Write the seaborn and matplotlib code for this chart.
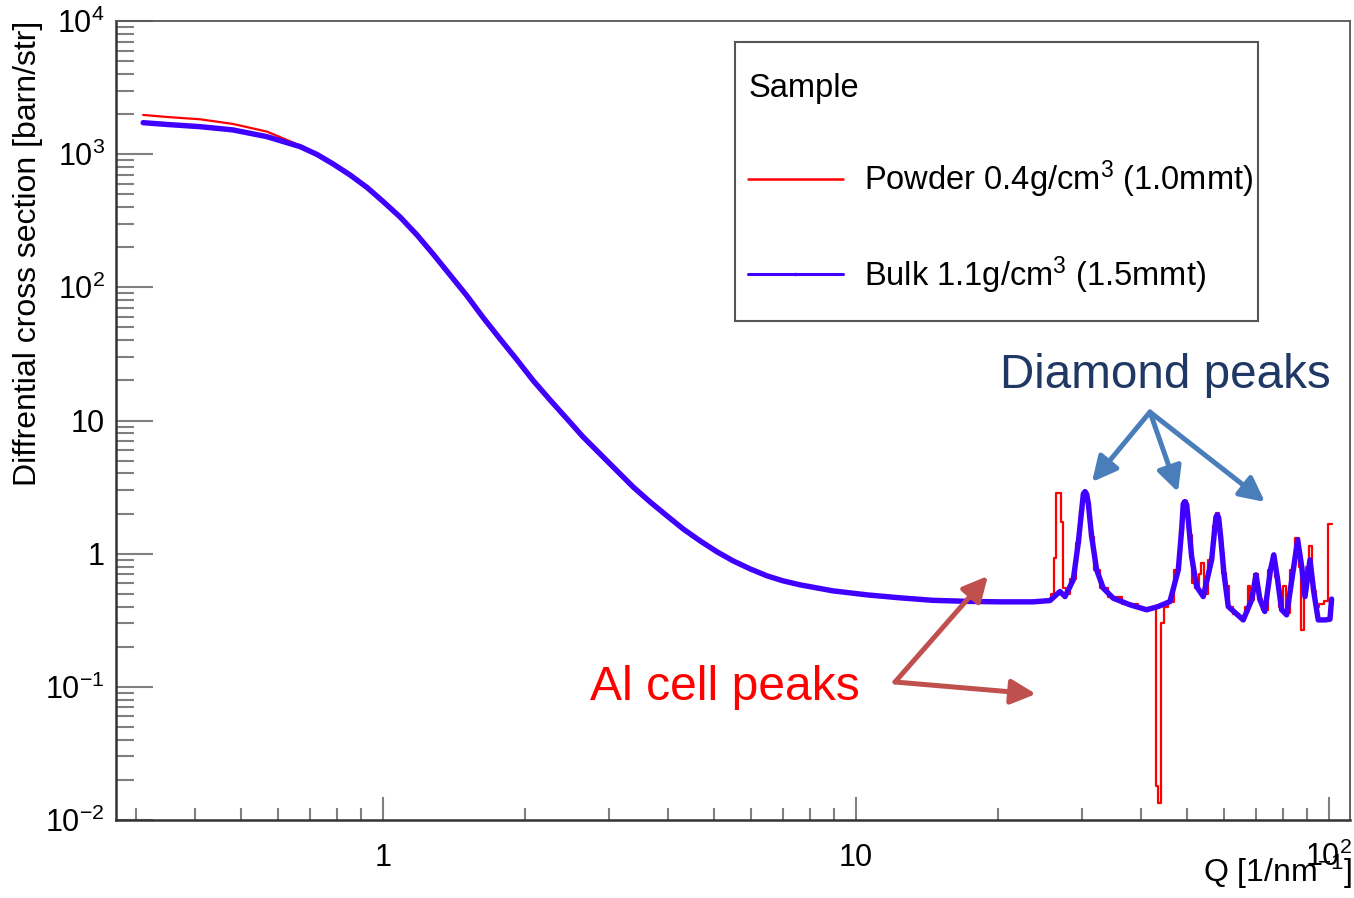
import numpy as np
import matplotlib
matplotlib.use("Agg")
import matplotlib.pyplot as plt
import seaborn as sns
from matplotlib.ticker import FixedLocator, FixedFormatter, LogLocator, NullFormatter
from matplotlib.lines import Line2D
from matplotlib.patches import Rectangle

# ---------------- data ----------------
q_smooth = [0.3110, 0.3494, 0.4103, 0.4819, 0.5685, 0.6677, 0.7252, 0.7842, 0.8517, 0.9250,
            1.000, 1.0862, 1.1797, 1.2755, 1.3856, 1.5052, 1.6272, 1.7676, 1.9201, 2.0757,
            2.2548, 2.4494, 2.6479, 2.8764, 3.1246, 3.3779, 3.6693, 3.9859, 4.3090, 4.6807,
            5.0845, 5.4966, 5.9708, 6.4860, 7.0115, 7.6164, 8.9396, 10.550, 12.390, 14.545,
            17.169, 20.157, 23.667, 25.715]
bulk_smooth = [1724, 1671, 1609, 1520, 1353, 1139, 994.8, 844.2, 698.0, 562.3,
               441.5, 337.7, 247.4, 178.1, 123.9, 86.2, 59.4, 41.0, 28.5, 20.0,
               14.27, 10.28, 7.533, 5.614, 4.184, 3.173, 2.448, 1.922, 1.535, 1.248,
               1.032, 0.883, 0.769, 0.6813, 0.6249, 0.5832, 0.5256, 0.4905, 0.4659, 0.4462,
               0.4385, 0.4347, 0.4347, 0.4446]
powder_smooth = [1970, 1902, 1828, 1686, 1476, 1162, 995, 840, 690, 553,
                 430, 329, 241, 173.6, 120.8, 84.0, 57.9, 40.0, 27.8, 19.5,
                 13.9, 10.02, 7.34, 5.47, 4.08, 3.09, 2.39, 1.87, 1.52, 1.24,
                 1.03, 0.883, 0.769, 0.6813, 0.631, 0.589, 0.531, 0.4905, 0.4659, 0.4462,
                 0.4385, 0.4347, 0.4347, 0.4446]

q_bulk_peaks = [26.99, 27.67, 28.80, 29.51, 30.01, 30.25, 30.50, 30.75, 30.98, 31.50,
                32.27, 33.33, 34.99, 37.96, 41.17, 43.56, 46.11, 48.02, 48.82, 49.20,
                49.61, 50.03, 50.41, 51.25, 52.52, 54.23, 56.49, 57.41, 57.70, 58.05,
                58.46, 59.02, 59.98, 61.25, 65.89, 68.65, 70.11, 71.48, 73.18, 75.24,
                76.46, 77.71, 79.43, 81.39, 84.06, 85.88, 87.58, 89.00, 91.18, 92.97,
                94.93, 98.07, 100.5, 101.3]
bulk_peaks = [0.520, 0.476, 0.636, 1.205, 2.132, 2.81, 2.925, 2.79, 2.407, 1.344,
              0.756, 0.551, 0.463, 0.413, 0.379, 0.401, 0.437, 0.756, 1.509, 2.365,
              2.461, 2.33, 1.794, 0.951, 0.566, 0.476, 0.899, 1.598, 1.89, 1.956,
              1.86, 1.344, 0.714, 0.401, 0.318, 0.450, 0.693, 0.450, 0.368, 0.756,
              0.980, 0.673, 0.379, 0.347, 0.756, 1.269, 0.800, 0.476, 0.899, 0.505,
              0.318, 0.318, 0.322, 0.456]

q_powder_peaks = [25.71, 26.09, 26.35, 26.57, 26.99, 27.30, 27.60, 28.00, 28.80, 29.51,
                  30.01, 30.50, 30.98, 31.50, 32.27, 33.33, 34.99, 37.96, 41.17, 42.70,
                  43.30, 43.90, 44.50, 45.20, 46.11, 48.02, 48.82, 49.61, 50.41, 51.00,
                  51.80, 52.60, 53.40, 54.00, 54.60, 56.49, 57.41, 58.05, 59.02, 59.98,
                  61.00, 62.00, 63.50, 65.89, 67.20, 67.86, 68.65, 70.11, 71.48, 73.18,
                  75.24, 76.46, 77.71, 79.43, 80.50, 81.60, 84.06, 85.88, 87.00, 87.82,
                  89.00, 90.30, 91.50, 92.97, 94.40, 96.50, 98.50, 100.5, 101.3]
powder_peaks = [0.445, 0.50, 0.93, 2.85, 2.85, 1.74, 0.55, 0.50, 0.64, 1.20,
                2.10, 2.90, 2.40, 1.34, 0.76, 0.55, 0.47, 0.42, 0.39, 0.39,
                0.018, 0.0135, 0.30, 0.40, 0.437, 0.76, 1.50, 2.50, 1.80, 1.38,
                0.60, 0.55, 0.70, 0.85, 0.50, 0.90, 1.60, 2.03, 1.35, 0.72,
                0.57, 0.40, 0.35, 0.34, 0.40, 0.573, 0.45, 0.70, 0.46, 0.38,
                0.76, 0.98, 0.67, 0.40, 0.573, 0.36, 0.76, 1.31, 0.80, 0.268,
                0.48, 0.80, 1.144, 0.52, 0.40, 0.42, 0.44, 1.665, 1.665]

series_labels = [r"Powder 0.4g/cm$^{3}$ (1.0mmt)", r"Bulk 1.1g/cm$^{3}$ (1.5mmt)"]
legend_title = "Sample"
y_ticks = [1e-2, 1e-1, 1, 10, 100, 1e3, 1e4]
y_tick_labels = [r"$10^{-2}$", r"$10^{-1}$", "1", "10", r"$10^{2}$", r"$10^{3}$", r"$10^{4}$"]
x_ticks = [1, 10, 100]
x_tick_labels = ["1", "10", r"$10^{2}$"]
x_label = r"Q [1/nm$^{-1}$]"
y_label = "Diffrential cross section [barn/str]"

RED = "#FF0000"
BLUE = "#4000FF"

# ---------------- style ----------------
sns.set_theme(style="white")
plt.rcParams["font.family"] = ["Liberation Sans", "DejaVu Sans"]
plt.rcParams["mathtext.fontset"] = "custom"
plt.rcParams["mathtext.rm"] = "Liberation Sans"
plt.rcParams["mathtext.it"] = "Liberation Sans:italic"
plt.rcParams["mathtext.bf"] = "Liberation Sans:bold"
plt.rcParams["mathtext.default"] = "regular"
plt.rcParams["text.color"] = "black"
plt.rcParams["axes.labelcolor"] = "black"
plt.rcParams["legend.labelcolor"] = "black"

fig = plt.figure(figsize=(13.54, 8.98), dpi=100)
ax = fig.add_axes([116 / 1354, 1 - 820 / 898, 1234 / 1354, 799 / 898])
ax.set_xscale("log")
ax.set_yscale("log")

q_bulk = q_smooth + q_bulk_peaks
bulk = bulk_smooth + bulk_peaks

sns.lineplot(x=q_smooth, y=powder_smooth, ax=ax, color=RED, lw=1.6,
             estimator=None, sort=False, zorder=2)
sns.lineplot(x=q_powder_peaks, y=powder_peaks, ax=ax, color=RED, lw=1.6,
             estimator=None, sort=False, drawstyle="steps-mid", zorder=2)
sns.lineplot(x=q_bulk, y=bulk, ax=ax, color=BLUE, lw=3.9,
             estimator=None, sort=False, zorder=3)

ax.set_xlim(0.2725, 110.8)
ax.set_ylim(1e-2, 1e4)

ax.xaxis.set_major_locator(FixedLocator(x_ticks))
ax.xaxis.set_major_formatter(FixedFormatter(x_tick_labels))
ax.xaxis.set_minor_locator(LogLocator(base=10, subs=np.arange(2, 10), numticks=30))
ax.xaxis.set_minor_formatter(NullFormatter())
ax.yaxis.set_major_locator(FixedLocator(y_ticks))
ax.yaxis.set_major_formatter(FixedFormatter(y_tick_labels))
ax.yaxis.set_minor_locator(LogLocator(base=10, subs=np.arange(2, 10), numticks=30))
ax.yaxis.set_minor_formatter(NullFormatter())

ax.tick_params(which="both", direction="in", color="#808080", width=1.5,
               bottom=True, left=True, top=False, right=False, labelcolor="black")
ax.tick_params(axis="y", which="major", length=26.6, pad=8, labelsize=22)
ax.tick_params(axis="y", which="minor", length=13)
ax.tick_params(axis="x", which="major", length=16.5, pad=33, labelsize=22)
ax.tick_params(axis="x", which="minor", length=8.5)
for lbl in ax.get_xticklabels():
    lbl.set_verticalalignment("baseline")

for side in ["left", "bottom"]:
    ax.spines[side].set_color("#333333")
    ax.spines[side].set_linewidth(1.8)
for side in ["top", "right"]:
    ax.spines[side].set_color("#555555")
    ax.spines[side].set_linewidth(1.3)

ax.set_ylabel(y_label, fontsize=23, loc="top", color="black")
ax.yaxis.set_label_coords(-0.0592, 1.0)
ax.set_xlabel(x_label, fontsize=23, loc="right", color="black")
ax.xaxis.set_label_coords(1.0016, -0.041)

# legend: frame drawn as a box, content placed inside it
frame = Rectangle((0.5016, 0.6245), 0.4238, 0.3492, transform=ax.transAxes,
                  facecolor="white", edgecolor="#555555", lw=1.5, zorder=4)
ax.add_patch(frame)
handles = [Line2D([], [], color=RED, lw=1.8),
           Line2D([], [], color=BLUE, lw=2.2, marker=".", markersize=3)]
leg = ax.legend(handles, series_labels, title=legend_title, loc="upper left",
                bbox_to_anchor=(0.5122, 0.9345), borderaxespad=0, borderpad=0,
                fontsize=23.5, title_fontsize=23.5, frameon=False,
                handlelength=2.9, handletextpad=0.66, labelspacing=1.66,
                alignment="left")
leg.set_zorder(5)

# annotations
ax.text(0.7164, 0.5407, "Diamond peaks", transform=ax.transAxes, fontsize=34.3,
        color="#1F3864", ha="left", va="baseline")
ax.text(0.3841, 0.1502, "Al cell peaks", transform=ax.transAxes, fontsize=34.6,
        color="#FF0000", ha="left", va="baseline")

dia_tail = (0.8379, 0.5106)
for head in [(0.7909, 0.4230), (0.8606, 0.4105), (0.9311, 0.3980)]:
    ax.annotate("", xy=head, xytext=dia_tail, xycoords="axes fraction",
                textcoords="axes fraction",
                arrowprops=dict(arrowstyle="-|>,head_length=1.0,head_width=0.5",
                                color="#4A7EBB", lw=3.6, mutation_scale=15,
                                shrinkA=0, shrinkB=0))
al_tail = (0.6313, 0.1727)
for head in [(0.7066, 0.3054), (0.7455, 0.1577)]:
    ax.annotate("", xy=head, xytext=al_tail, xycoords="axes fraction",
                textcoords="axes fraction",
                arrowprops=dict(arrowstyle="-|>,head_length=1.0,head_width=0.5",
                                color="#C0504D", lw=3.6, mutation_scale=15,
                                shrinkA=0, shrinkB=0))

fig.savefig("out.png", dpi=100)
